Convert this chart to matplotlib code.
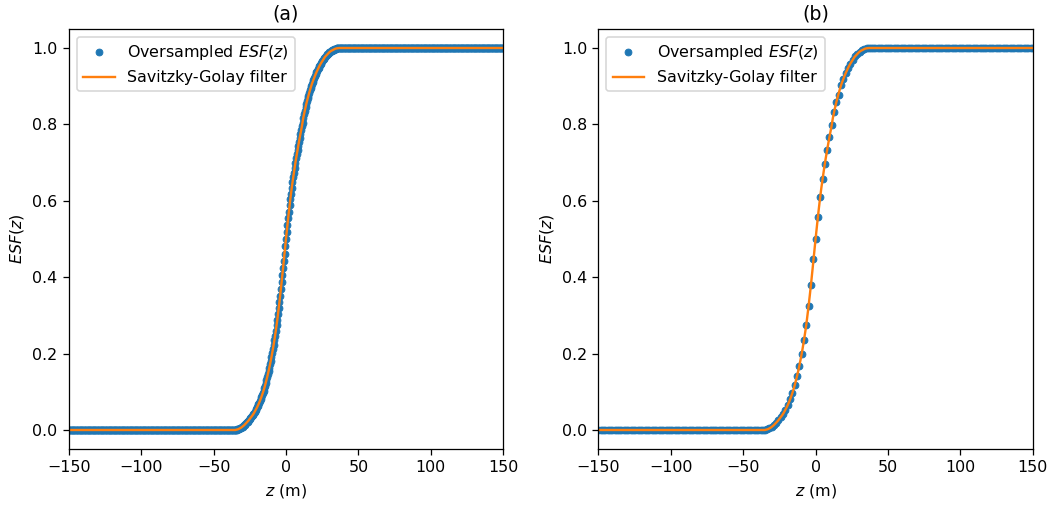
import numpy as np
import matplotlib
matplotlib.use("Agg")
import matplotlib.pyplot as plt

# ESF, z = -35 ... 37 m every 0.5 m (dense oversampled points, panel a)
esf_a = [0.000, 0.0005, 0.001, 0.0015, 0.002, 0.003, 0.004, 0.005, 0.006, 0.007,
         0.009, 0.010, 0.012, 0.014, 0.016, 0.018, 0.020, 0.022, 0.024, 0.026,
         0.029, 0.031, 0.034, 0.036, 0.039, 0.042, 0.045, 0.048, 0.052, 0.055,
         0.059, 0.063, 0.067, 0.071, 0.076, 0.081, 0.086, 0.091, 0.097, 0.103,
         0.109, 0.116, 0.123, 0.130, 0.138, 0.146, 0.154, 0.163, 0.172, 0.181,
         0.191, 0.201, 0.212, 0.223, 0.235, 0.247, 0.260, 0.274, 0.288, 0.303,
         0.319, 0.335, 0.352, 0.369, 0.387, 0.405, 0.424, 0.443, 0.462, 0.481,
         0.500,
         0.518, 0.536, 0.554, 0.571, 0.588, 0.604, 0.619, 0.634, 0.648, 0.661,
         0.674, 0.687, 0.699, 0.711, 0.722, 0.733, 0.744, 0.755, 0.765, 0.775,
         0.785, 0.795, 0.804, 0.818, 0.827, 0.836, 0.845, 0.853, 0.861, 0.868,
         0.875, 0.882, 0.889, 0.895, 0.901, 0.907, 0.912, 0.917, 0.922, 0.927,
         0.932, 0.936, 0.940, 0.944, 0.948, 0.952, 0.955, 0.959, 0.962, 0.965,
         0.968, 0.971, 0.974, 0.977, 0.979, 0.981, 0.983, 0.985, 0.987, 0.989,
         0.990, 0.992, 0.993, 0.994, 0.995, 0.996, 0.997, 0.998, 0.9985, 0.999,
         0.9993, 0.9996, 0.9998, 1.000]
z_a = np.linspace(-35, 37, len(esf_a))

# panel b: coarser oversampling, every 1.6 m from -35.2 to 36.8
esf_b = [0.000, 0.0015, 0.004, 0.008, 0.013, 0.019, 0.026, 0.034, 0.043, 0.053,
         0.065, 0.080, 0.097, 0.117, 0.141, 0.168, 0.199, 0.235, 0.276, 0.325,
         0.380, 0.447,
         0.500,
         0.558, 0.610, 0.656, 0.697, 0.733, 0.767, 0.799, 0.833, 0.859, 0.878,
         0.902, 0.919, 0.935, 0.947, 0.959, 0.969, 0.978, 0.984, 0.990, 0.994,
         0.997, 0.999, 1.000]
z_b = np.linspace(-35.2, 36.8, len(esf_b))

# flat parts of the edge
esf_low = 0.0
esf_high = 1.0

# Savitzky-Golay output (same curve on integer z)
z_sg = z_a[::2]
esf_sg = esf_a[::2]

dpi = 114
fig = plt.figure(figsize=(1055 / dpi, 505 / dpi), dpi=dpi)
ax1 = fig.add_axes([0.0651, 0.1107, 0.4119, 0.8321])
ax2 = fig.add_axes([0.5671, 0.1107, 0.4119, 0.8321])

panels = [(ax1, z_a, esf_a, 0.5, '(a)'), (ax2, z_b, esf_b, 1.6, '(b)')]
for ax, z, esf, dz, title in panels:
    z_lo = np.arange(-150, z[0] - dz / 2, dz)
    z_hi = np.arange(150, z[-1] + dz / 2, -dz)[::-1]
    z_all = np.concatenate([z_lo, z, z_hi])
    e_all = np.concatenate([np.full(len(z_lo), esf_low), esf, np.full(len(z_hi), esf_high)])
    ax.plot(z_all, e_all, 'o', color='tab:blue', ms=4.3, mew=0.6,
            label='Oversampled $ESF(z)$')
    zl = np.concatenate([[-150], z_sg, [150]])
    el = np.concatenate([[esf_low], esf_sg, [esf_high]])
    ax.plot(zl, el, color='tab:orange', lw=1.5, label='Savitzky-Golay filter')
    ax.set_xlim(-150, 150)
    ax.set_xlabel('$z$ (m)')
    ax.set_ylabel('$ESF(z)$')
    ax.set_title(title)
    ax.legend(loc='upper left')

fig.savefig('out.png', dpi=dpi)
